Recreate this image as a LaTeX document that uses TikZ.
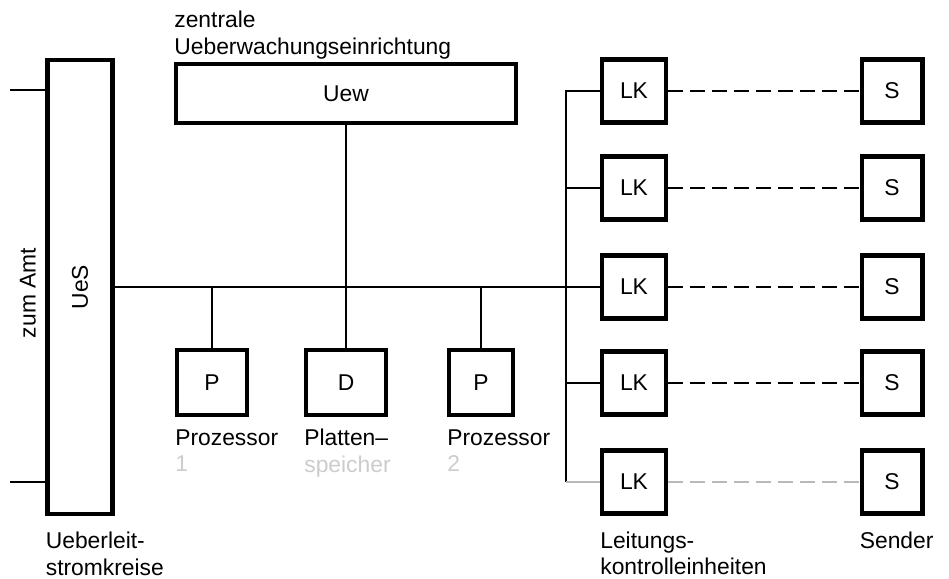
\documentclass[tikz,border=0pt]{standalone}
\usepackage{fontspec}
\setmainfont{Liberation Sans}
\usetikzlibrary{positioning}

\tikzset{
  block/.style={draw, line width=2.3pt, inner sep=0pt},
  wire/.style={line width=1.6pt},
  link/.style={line width=1.6pt, dash pattern=on 8.5pt off 4pt},
  caption/.style={inner sep=0pt, align=left},
  faded/.style={draw=gray!55},
}

\begin{document}
\begin{tikzpicture}[x=0.02cm, y=-0.02cm, font=\fontsize{13}{15.2}\selectfont]
  \useasboundingbox (0,0) rectangle (949,578);
  % Ueberleitstromkreise
  \node[block, minimum width=1.3cm, minimum height=9.08cm] (ues) at (80,287) {\rotatebox{90}{UeS}};
  \node[rotate=90, inner sep=0pt] (amt) at (28,293) {zum Amt};
  \coordinate (amt1) at (10,90);
  \coordinate (amt2) at (10,482);
  \draw[wire] (amt1) -- (amt1 -| ues.west);
  \draw[wire] (amt2) -- (amt2 -| ues.west);
  % Ueberwachung, Prozessoren, Plattenspeicher
  \node[block, minimum width=6.8cm, minimum height=1.18cm] (uew) at (346,93.5) {Uew};
  \node[block, minimum width=1.4cm, minimum height=1.3cm] (p1) at (212,382.5) {P};
  \node[block, minimum width=1.6cm, minimum height=1.3cm] (d) at (346,382.5) {D};
  \node[block, minimum width=1.28cm, minimum height=1.3cm] (p2) at (481,382.5) {P};
  % Leitungskontrolleinheiten und Sender
  \foreach \i/\y in {1/91,2/188,3/287,4/383,5/482} {
    \node[block, minimum width=1.28cm, minimum height=1.26cm] (lk\i) at (634,\y) {LK};
    \node[block, minimum width=1.22cm, minimum height=1.26cm] (s\i) at (892,\y) {S};
  }
  \coordinate (lkbus) at (566,0);
  % Bus
  \draw[wire] (ues.east) -- (lk3.west -| lkbus);
  \draw[wire] (uew) -- (d);
  \draw[wire] (p1.north) -- (p1.north |- ues.east);
  \draw[wire] (p2.north) -- (p2.north |- ues.east);
  \draw[wire] (lk1.west) -- (lk1.west -| lkbus) -- (lk5.west -| lkbus);
  \foreach \i in {2,3,4}
    \draw[wire] (lk\i.west -| lkbus) -- (lk\i.west);
  \draw[wire, faded] (lk5.west -| lkbus) -- (lk5.west);
  \foreach \i in {1,...,4}
    \draw[link] (lk\i) -- (s\i);
  \draw[link, faded] (lk5) -- (s5);
  % Beschriftung
  \node[caption, above=1.5pt of uew.north west, anchor=south west] (uewlabel) {zentrale\\Ueberwachungseinrichtung};
  \node[caption, below=6.8pt of p1.south west, anchor=north west] (p1label) {Prozessor\\\textcolor{gray!40}{1}};
  \node[caption, below=6.8pt of d.south west, anchor=north west] (dlabel) {Platten--\\\textcolor{gray!40}{speicher}};
  \node[caption, below=6.8pt of p2.south west, anchor=north west] (p2label) {Prozessor\\\textcolor{gray!40}{2}};
  \node[caption, below=9pt of ues.south west, anchor=north west] (ueslabel) {Ueberleit-\\stromkreise};
  \node[caption, below=9pt of lk5.south west, anchor=north west] (lklabel) {Leitungs-\\kontrolleinheiten};
  \node[caption, below=9pt of s5.south west, anchor=north west] (slabel) {Sender};
\end{tikzpicture}
\end{document}
